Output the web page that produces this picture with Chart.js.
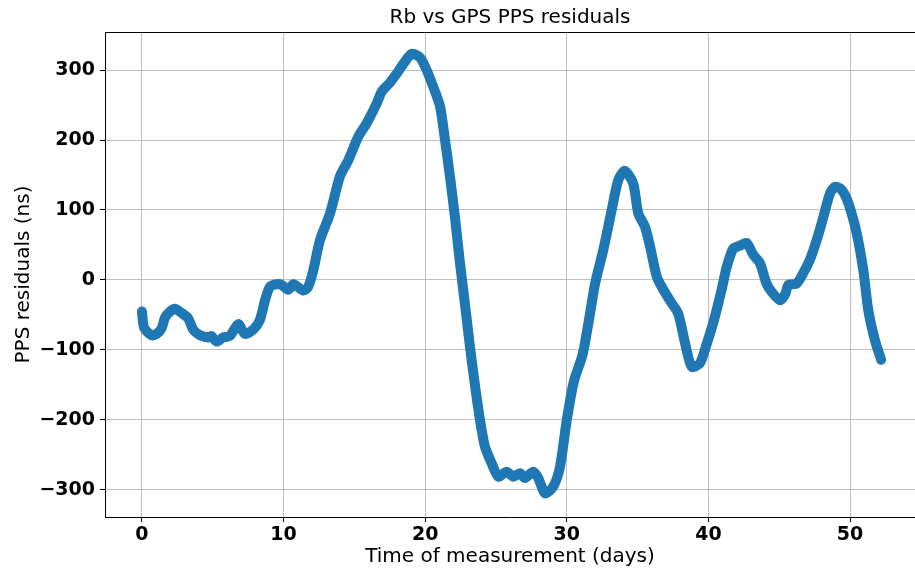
<!DOCTYPE html>
<html>
<head>
<meta charset="utf-8">
<script src="https://cdn.jsdelivr.net/npm/chart.js@4/dist/chart.umd.min.js"></script>
<style>
html,body{margin:0;padding:0;background:#fff;}
#wrap{width:915px;height:572px;}
</style>
</head>
<body>
<div id="wrap"><canvas id="c" width="915" height="572"></canvas></div>
<script>
const days = [0, 0.15, 0.68, 1.04, 1.39, 1.62, 1.98, 2.33, 2.8, 3.27, 3.62, 4.1, 4.68, 4.9, 5.27, 5.74, 6.2, 6.8, 7.27, 7.86, 8.33, 8.69, 9.04, 9.51, 9.86, 10.33, 10.69, 11.4, 11.75, 12.1, 12.57, 13.28, 13.98, 14.57, 15.28, 15.87, 16.57, 16.93, 17.51, 18.1, 18.57, 19.05, 19.63, 20.1, 20.57, 21.05, 21.4, 21.75, 22.1, 22.46, 22.8, 23.16, 23.5, 23.87, 24.22, 24.7, 25.16, 25.75, 26.22, 26.7, 27.04, 27.63, 27.99, 28.46, 29.05, 29.52, 30.0, 30.5, 31.1, 31.5, 32.0, 32.58, 33.17, 33.64, 34.1, 34.69, 35.05, 35.52, 35.88, 36.35, 36.82, 37.4, 37.87, 38.35, 38.82, 39.4, 39.87, 40.4, 40.93, 41.3, 41.76, 42.23, 42.7, 43.17, 43.64, 44.1, 44.47, 45.06, 45.41, 45.65, 46.23, 46.7, 47.17, 47.65, 48.12, 48.59, 48.94, 49.41, 49.88, 50.47, 50.94, 51.29, 51.76, 52.2];
const residuals = [-45, -68, -79, -77, -69, -54, -45, -41, -47, -55, -71, -79, -82, -80, -88, -82, -80, -63, -77, -71, -57, -29, -9.5, -6, -7, -14, -6, -15, -9.5, 14, 57, 95, 148, 171, 205, 224, 252, 269, 282, 298, 312, 323, 318, 300, 276, 248, 200, 148, 90, 24, -33, -95, -148, -200, -238, -262, -281, -274, -281, -276, -283, -274, -283, -305, -295, -267, -200, -145, -108, -65, -5, 43, 100, 143, 156, 138, 95, 76, 48, 5, -14, -33, -48, -90, -124, -119, -92, -57, -14, 19, 45, 49, 53, 36, 24, -5, -17, -29, -21, -7, -5, 10, 29, 57, 90, 124, 133, 129, 110, 67, 14, -43, -86, -114];
const xTicks = [0, 10, 20, 30, 40, 50];
const yTicks = [-300, -200, -100, 0, 100, 200, 300];
const chartTitle = 'Rb vs GPS PPS residuals';

const points = days.map((d, i) => ({x: d, y: residuals[i]}));

const frameAndTitle = {
  id: 'frameAndTitle',
  afterDraw(chart) {
    const {ctx, chartArea} = chart;
    ctx.save();
    ctx.strokeStyle = '#000';
    ctx.lineWidth = 1;
    ctx.beginPath();
    ctx.moveTo(chartArea.left, chartArea.top + 0.5);
    ctx.lineTo(chartArea.right, chartArea.top + 0.5);
    ctx.stroke();
    ctx.fillStyle = '#000';
    ctx.font = 'normal 20px "DejaVu Sans"';
    ctx.textAlign = 'center';
    ctx.textBaseline = 'middle';
    ctx.fillText(chartTitle, (chartArea.left + chartArea.right) / 2, 18);
    ctx.restore();
  }
};

new Chart(document.getElementById('c'), {
  type: 'scatter',
  data: {
    datasets: [{
      data: points,
      showLine: true,
      borderColor: '#1f77b4',
      backgroundColor: '#1f77b4',
      borderWidth: 10,
      borderCapStyle: 'round',
      borderJoinStyle: 'round',
      pointRadius: 0,
      tension: 0.25
    }]
  },
  plugins: [frameAndTitle],
  options: {
    responsive: false,
    animation: false,
    layout: {padding: {left: 0, right: 0, top: 32, bottom: 0}},
    plugins: {
      legend: {display: false},
      tooltip: {enabled: false},
      title: {display: false}
    },
    scales: {
      x: {
        type: 'linear',
        min: -2.61,
        max: 54.59,
        afterBuildTicks(scale) { scale.ticks = xTicks.map(v => ({value: v})); },
        afterFit(scale) { scale.height = 55; },
        ticks: {
          color: '#000',
          font: {family: 'DejaVu Sans', size: 19, weight: 'bold'},
          padding: 2,
          maxRotation: 0,
          callback: v => String(v)
        },
        grid: {color: '#b0b0b0', lineWidth: 0.8, tickLength: 5, tickColor: '#000', tickWidth: 1},
        border: {display: true, color: '#000', width: 1},
        title: {
          display: true,
          text: 'Time of measurement (days)',
          color: '#000',
          font: {family: 'DejaVu Sans', size: 20, weight: 'normal', lineHeight: 1.2},
          padding: {top: 0, bottom: 3}
        }
      },
      y: {
        type: 'linear',
        min: -338.6,
        max: 354.3,
        afterBuildTicks(scale) { scale.ticks = yTicks.map(v => ({value: v})); },
        afterFit(scale) { scale.width = 105; },
        ticks: {
          color: '#000',
          font: {family: 'DejaVu Sans', size: 19, weight: 'bold'},
          padding: 5,
          callback: v => (v < 0 ? '\u2212' + Math.abs(v) : String(v))
        },
        grid: {color: '#b0b0b0', lineWidth: 0.8, tickLength: 5, tickColor: '#000', tickWidth: 1},
        border: {display: true, color: '#000', width: 1},
        title: {
          display: true,
          text: 'PPS residuals (ns)',
          color: '#000',
          font: {family: 'DejaVu Sans', size: 20, weight: 'normal', lineHeight: 1.2},
          padding: {top: 12, bottom: 0}
        }
      }
    }
  }
});
</script>
</body>
</html>
